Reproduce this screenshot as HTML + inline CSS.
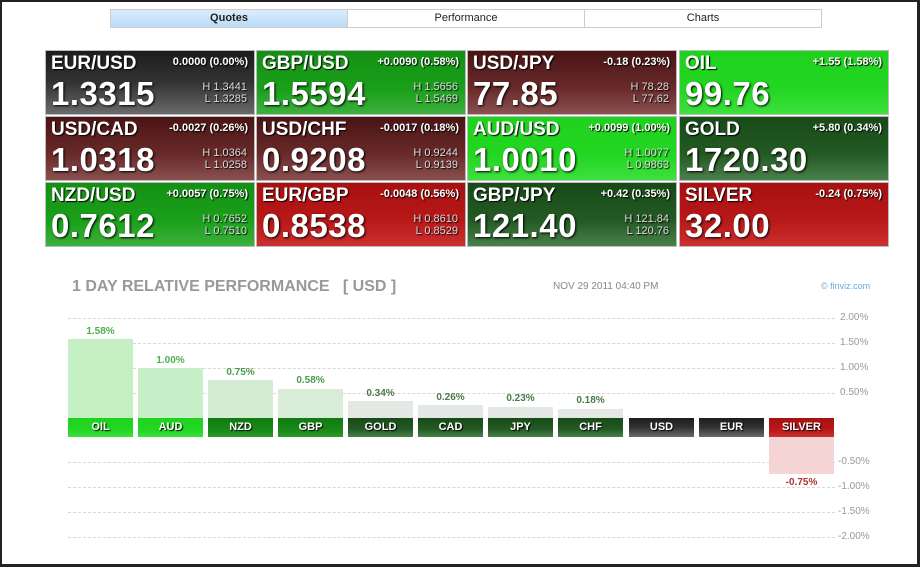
<!DOCTYPE html>
<html><head><meta charset="utf-8"><style>
*{margin:0;padding:0;box-sizing:border-box}
body{width:920px;height:567px;background:#fff;font-family:"Liberation Sans",Arial,sans-serif;position:relative;overflow:hidden}
.frame{position:absolute;left:0;top:0;width:920px;height:567px;border:2px solid #222;border-right-width:3px;border-bottom-width:3px}
.tab{position:absolute;top:9px;height:19px;border:1px solid #ccc;font-size:11px;text-align:center;line-height:17px;color:#222}
.t{position:absolute;color:#fff;border:1px solid #bbb;overflow:hidden}
.t .n{position:absolute;left:5px;top:2px;font-size:19px;font-weight:bold;text-shadow:1px 1px 1px #000}
.t .c{position:absolute;right:6px;top:5px;font-size:11px;font-weight:bold;text-shadow:1px 1px 1px #000}
.t .p{position:absolute;left:5px;top:24px;font-size:33px;font-weight:bold;text-shadow:1px 1px 2px #000;letter-spacing:0.5px}
.t .hl{position:absolute;right:7px;top:30px;font-size:11px;line-height:12px;text-align:right;color:#ddd;text-shadow:1px 1px 1px #000}
.blk{background:linear-gradient(#1c1c1c,#333 50%,#6a6a6a)}
.grn{background:linear-gradient(#149014,#1aa01a 60%,#3db03d)}
.mg{background:linear-gradient(#107a10,#188818 60%,#2c9a2c)}
.drd{background:linear-gradient(#4a1414,#6a2a2a 60%,#8a5050)}
.lg{background:linear-gradient(#1ed21e,#22d622 60%,#3ee03e)}
.dg{background:linear-gradient(#174a17,#245a24 60%,#4a804a)}
.rd{background:linear-gradient(#a81010,#b81818 60%,#cc3030)}
.g{position:absolute;left:68px;width:767px;border-top:1px dashed #d8d8d8}
.yl{position:absolute;left:840px;font-size:10px;color:#999}
.bar{position:absolute;width:65px}
.lb{position:absolute;top:418px;width:65px;height:19px;color:#fff;font-size:11px;font-weight:bold;text-align:center;line-height:19px;text-shadow:1px 1px 1px #000}
.v{position:absolute;width:65px;text-align:center;font-size:10px;font-weight:bold}
</style></head><body>
<div class="frame"></div>
<div class="tab" style="left:110px;width:238px;background:linear-gradient(#dcecfb,#b9dcf7);font-weight:bold">Quotes</div>
<div class="tab" style="left:347px;width:238px">Performance</div>
<div class="tab" style="left:584px;width:238px">Charts</div>

<div class="t blk" style="left:45px;top:50px;width:210px;height:65px"><div class="n">EUR/USD</div><div class="c">0.0000 (0.00%)</div><div class="p">1.3315</div><div class="hl">H 1.3441<br>L 1.3285</div></div>
<div class="t grn" style="left:256px;top:50px;width:210px;height:65px"><div class="n">GBP/USD</div><div class="c">+0.0090 (0.58%)</div><div class="p">1.5594</div><div class="hl">H 1.5656<br>L 1.5469</div></div>
<div class="t drd" style="left:467px;top:50px;width:210px;height:65px"><div class="n">USD/JPY</div><div class="c">-0.18 (0.23%)</div><div class="p">77.85</div><div class="hl">H 78.28<br>L 77.62</div></div>
<div class="t lg" style="left:679px;top:50px;width:210px;height:65px"><div class="n">OIL</div><div class="c">+1.55 (1.58%)</div><div class="p">99.76</div></div>

<div class="t drd" style="left:45px;top:116px;width:210px;height:65px"><div class="n">USD/CAD</div><div class="c">-0.0027 (0.26%)</div><div class="p">1.0318</div><div class="hl">H 1.0364<br>L 1.0258</div></div>
<div class="t drd" style="left:256px;top:116px;width:210px;height:65px"><div class="n">USD/CHF</div><div class="c">-0.0017 (0.18%)</div><div class="p">0.9208</div><div class="hl">H 0.9244<br>L 0.9139</div></div>
<div class="t lg" style="left:467px;top:116px;width:210px;height:65px"><div class="n">AUD/USD</div><div class="c">+0.0099 (1.00%)</div><div class="p">1.0010</div><div class="hl">H 1.0077<br>L 0.9863</div></div>
<div class="t dg" style="left:679px;top:116px;width:210px;height:65px"><div class="n">GOLD</div><div class="c">+5.80 (0.34%)</div><div class="p">1720.30</div></div>

<div class="t grn" style="left:45px;top:182px;width:210px;height:65px"><div class="n">NZD/USD</div><div class="c">+0.0057 (0.75%)</div><div class="p">0.7612</div><div class="hl">H 0.7652<br>L 0.7510</div></div>
<div class="t rd" style="left:256px;top:182px;width:210px;height:65px"><div class="n">EUR/GBP</div><div class="c">-0.0048 (0.56%)</div><div class="p">0.8538</div><div class="hl">H 0.8610<br>L 0.8529</div></div>
<div class="t dg" style="left:467px;top:182px;width:210px;height:65px"><div class="n">GBP/JPY</div><div class="c">+0.42 (0.35%)</div><div class="p">121.40</div><div class="hl">H 121.84<br>L 120.76</div></div>
<div class="t rd" style="left:679px;top:182px;width:210px;height:65px"><div class="n">SILVER</div><div class="c">-0.24 (0.75%)</div><div class="p">32.00</div></div>

<div style="position:absolute;left:72px;top:278px;font-size:16px;font-weight:bold;color:#999">1 DAY RELATIVE PERFORMANCE &nbsp;&nbsp;[ USD ]</div>
<div style="position:absolute;left:553px;top:281px;font-size:10px;color:#888">NOV 29 2011 04:40 PM</div>
<div style="position:absolute;left:821px;top:281px;font-size:9px;color:#6aa8e0">© finviz.com</div>

<div class="g" style="top:318px"></div><div class="g" style="top:343px"></div><div class="g" style="top:368px"></div><div class="g" style="top:393px"></div>
<div class="g" style="top:462px"></div><div class="g" style="top:487px"></div><div class="g" style="top:512px"></div><div class="g" style="top:537px"></div>
<div class="yl" style="top:312px">2.00%</div><div class="yl" style="top:337px">1.50%</div><div class="yl" style="top:362px">1.00%</div><div class="yl" style="top:387px">0.50%</div>
<div class="yl" style="top:456px;left:838px">-0.50%</div><div class="yl" style="top:481px;left:838px">-1.00%</div><div class="yl" style="top:506px;left:838px">-1.50%</div><div class="yl" style="top:531px;left:838px">-2.00%</div>

<div class="bar" style="left:68px;top:339px;height:79px;background:#c4f0c4"></div><div class="v" style="left:68px;top:326px;color:#4cb04c">1.58%</div>
<div class="bar" style="left:138px;top:368px;height:50px;background:#c8f0c8"></div><div class="v" style="left:138px;top:355px;color:#4cb04c">1.00%</div>
<div class="bar" style="left:208px;top:380px;height:38px;background:#d4ecd4"></div><div class="v" style="left:208px;top:367px;color:#4a9a4a">0.75%</div>
<div class="bar" style="left:278px;top:389px;height:29px;background:#d8ecd8"></div><div class="v" style="left:278px;top:375px;color:#4a9a4a">0.58%</div>
<div class="bar" style="left:348px;top:401px;height:17px;background:#e4e8e4"></div><div class="v" style="left:348px;top:388px;color:#4a7a4a">0.34%</div>
<div class="bar" style="left:418px;top:405px;height:13px;background:#e4e8e4"></div><div class="v" style="left:418px;top:392px;color:#4a7a4a">0.26%</div>
<div class="bar" style="left:488px;top:407px;height:11px;background:#e4e8e4"></div><div class="v" style="left:488px;top:393px;color:#4a7a4a">0.23%</div>
<div class="bar" style="left:558px;top:409px;height:9px;background:#e4e8e4"></div><div class="v" style="left:558px;top:395px;color:#4a7a4a">0.18%</div>
<div class="bar" style="left:769px;top:437px;height:37px;background:#f4d4d4"></div><div class="v" style="left:769px;top:477px;color:#b03030">-0.75%</div>

<div class="lb lg" style="left:68px">OIL</div>
<div class="lb lg" style="left:138px">AUD</div>
<div class="lb mg" style="left:208px">NZD</div>
<div class="lb mg" style="left:278px">GBP</div>
<div class="lb dg" style="left:348px">GOLD</div>
<div class="lb dg" style="left:418px">CAD</div>
<div class="lb dg" style="left:488px">JPY</div>
<div class="lb dg" style="left:558px">CHF</div>
<div class="lb blk" style="left:629px">USD</div>
<div class="lb blk" style="left:699px">EUR</div>
<div class="lb rd" style="left:769px">SILVER</div>
</body></html>
